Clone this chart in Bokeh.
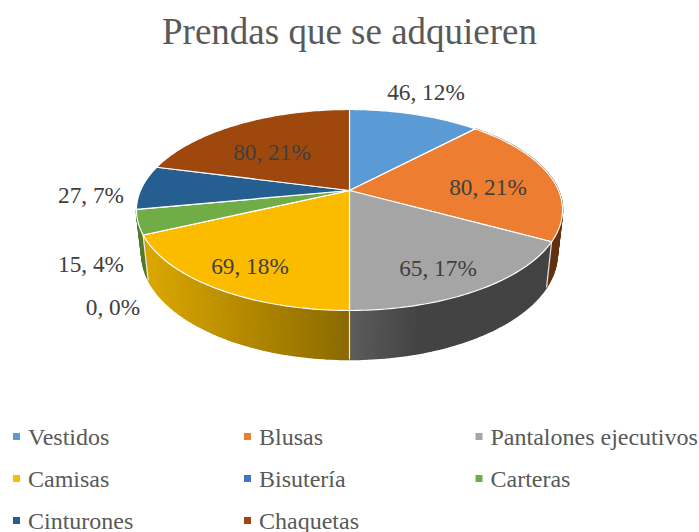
import math
from bokeh.plotting import figure
from bokeh.models import ColumnDataSource
from bokeh.core.properties import value
from bokeh.embed import file_html
from bokeh.resources import INLINE

# ---- data
categories = ["Vestidos", "Blusas", "Pantalones ejecutivos", "Camisas",
              "Bisutería", "Carteras", "Cinturones", "Chaquetas"]
values = [46, 80, 65, 69, 0, 15, 27, 80]
percents = [12, 21, 17, 18, 0, 4, 7, 21]
colors = ["#5B9BD5", "#ED7D31", "#A5A5A5", "#FBBC00",
          "#4472C4", "#70AD47", "#255E91", "#9E480E"]
title_text = "Prendas que se adquieren"

# ---- layout (styles and positions, not data)
W, H = 699, 532
label_xy = [(425.5, 91), (487.5, 186), (437.5, 267), (249.5, 265),
            (112.5, 306), (90.5, 263), (90.5, 194), (271.5, 151)]
legend_x = [16, 247, 478.5]
legend_y = [436, 478, 520]
CX, CY, R, S, K = 349.0, 190.0, 209.0, 96.7, 0.194
visible_walls = (1, 5, 2, 3)


def top(th):
    u, v = math.sin(th), math.cos(th)
    d = 1 + K * v
    return CX + R * u / d, CY - S * v / d


def bottom(th):
    x, y = top(th)
    return CX + (x - CX) * 0.975, y + 49 - (310 - y) * 0.05


def mix(a, b, t):
    t = max(0.0, min(1.0, t))
    return "#%02x%02x%02x" % tuple(round(p + (q - p) * t) for p, q in zip(a, b))


def wall_color(i, x):
    if i == 3:
        return mix((217, 166, 0), (138, 105, 0), (x - 148) / 201)
    if i == 2:
        return mix((92, 92, 92), (67, 67, 67), (x - 349) / 70)
    if i == 1:
        return "#63320f"
    return "#507c2f"


total = sum(values)
edges = [0.0]
for val in values:
    edges.append(edges[-1] + val / total * 2 * math.pi)

p = figure(width=W, height=H, x_range=(0, W), y_range=(H, 0),
           output_backend="svg", toolbar_location=None, min_border=0,
           outline_line_color=None, background_fill_color="white", border_fill_color="white")
p.axis.visible = False
p.grid.visible = False

# side wall, in thin strips so the shading can change along it
sx, sy, sc = [], [], []
for i in visible_walls:
    a, b = edges[i], edges[i + 1]
    n = max(2, int((b - a) / math.radians(1.0)))
    for j in range(n):
        t0 = a + (b - a) * j / n
        t1 = a + (b - a) * (j + 1) / n
        p0, p1, q1, q0 = top(t0), top(t1), bottom(t1), bottom(t0)
        sx.append([p0[0], p1[0], q1[0], q0[0]])
        sy.append([p0[1], p1[1], q1[1], q0[1]])
        sc.append(wall_color(i, (p0[0] + p1[0]) / 2))
p.patches(sx, sy, fill_color=sc, line_color=sc, line_width=1.5)

# light seams between the visible wall parts
for i in (1, 2, 3):
    th = edges[i + 1]
    tp, bt = top(th), bottom(th)
    p.line([tp[0], bt[0]], [tp[1], bt[1]], line_color="#e6e6e6", line_width=1.2)

# top surface
tx, ty = [], []
for i in range(len(values)):
    a, b = edges[i], edges[i + 1]
    n = max(2, int((b - a) / math.radians(1)))
    pts = [top(a + (b - a) * j / n) for j in range(n + 1)]
    tx.append([CX] + [q[0] for q in pts])
    ty.append([CY] + [q[1] for q in pts])
p.patches(tx, ty, fill_color=colors, line_color="white", line_width=1.2)

# data labels
font = value("Liberation Serif")
p.text([q[0] for q in label_xy], [q[1] for q in label_xy],
       text=[f"{v}, {q}%" for v, q in zip(values, percents)],
       text_font=font, text_font_size="23.3px", text_color="#404040",
       text_align="center", text_baseline="middle")

# title
p.text([349], [31], text=[title_text], text_font=font, text_font_size="37px",
       text_color="#595959", text_align="center", text_baseline="middle")

# legend
lx = [legend_x[i % 3] for i in range(len(categories))]
ly = [legend_y[i // 3] for i in range(len(categories))]
src = ColumnDataSource(dict(x=lx, y=ly, tx=[v + 11.5 for v in lx], c=colors, t=categories))
p.scatter("x", "y", source=src, marker="square", size=7, fill_color="c", line_color=None)
p.text("tx", "y", text="t", source=src, text_font=font, text_font_size="24px",
       text_color="#595959", text_align="left", text_baseline="middle")

open("out.html", "w").write(file_html(p, INLINE))
